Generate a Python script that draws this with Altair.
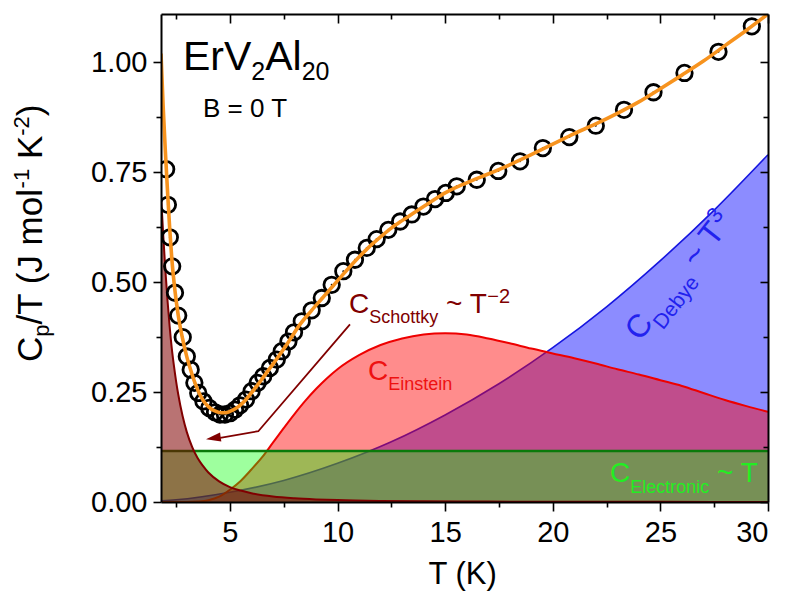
import math
import altair as alt
import pandas as pd

# ---------------- data ----------------
T_pts = [2.04, 2.12, 2.21, 2.32, 2.45, 2.60, 2.81, 3.00, 3.18, 3.35, 3.53, 3.77, 4.04, 4.31,
         4.54, 4.77, 5.01, 5.24, 5.47, 5.75, 6.01, 6.29, 6.55, 6.86, 7.18, 7.41, 7.72, 7.98,
         8.34, 8.80, 9.27, 9.73, 10.27, 10.81, 11.36, 11.82, 12.36, 12.91, 13.45, 13.99, 14.53,
         15.03, 15.54, 16.47, 17.47, 18.48, 19.54, 20.77, 22.00, 23.31, 24.68, 26.12, 27.70, 29.25]
Cp_pts = [0.757, 0.676, 0.602, 0.536, 0.476, 0.424, 0.375, 0.331, 0.301, 0.271, 0.248, 0.229, 0.214, 0.204,
          0.199, 0.199, 0.202, 0.210, 0.220, 0.233, 0.252, 0.271, 0.286, 0.305, 0.324, 0.343, 0.365, 0.386,
          0.411, 0.436, 0.464, 0.494, 0.525, 0.551, 0.578, 0.598, 0.619, 0.638, 0.654, 0.672, 0.689,
          0.703, 0.718, 0.733, 0.753, 0.775, 0.805, 0.830, 0.856, 0.892, 0.932, 0.976, 1.024, 1.082]

T_fit = [1.8, 1.9, 2.0, 2.1, 2.2, 2.3, 2.45, 2.6, 2.8, 3.0, 3.2, 3.4, 3.6, 3.8, 4.0, 4.3, 4.6, 4.8,
         5.0, 5.25, 5.5, 5.75, 6.0, 6.3, 6.6, 6.9, 7.2, 7.5, 7.8, 8.2, 8.8, 9.3, 9.8, 10.3, 10.8,
         11.4, 12.0, 12.5, 13.0, 13.5, 14.0, 14.5, 15.0, 16.0, 17.0, 18.0, 19.0, 20.0, 21.0, 22.0,
         23.0, 24.0, 25.0, 26.0, 27.0, 28.0, 29.0, 30.0]
Cp_fit = [1.02, 0.90, 0.80, 0.71, 0.625, 0.555, 0.48, 0.425, 0.372, 0.330, 0.297, 0.268, 0.245, 0.228,
          0.217, 0.207, 0.203, 0.203, 0.206, 0.212, 0.221, 0.233, 0.248, 0.267, 0.287, 0.307, 0.327,
          0.348, 0.370, 0.400, 0.436, 0.464, 0.492, 0.520, 0.547, 0.577, 0.603, 0.623, 0.640, 0.656,
          0.672, 0.688, 0.703, 0.726, 0.746, 0.767, 0.790, 0.814, 0.838, 0.860, 0.884, 0.910, 0.940,
          0.971, 1.003, 1.038, 1.073, 1.11]

T_deb = [1.8, 2.5, 5.0, 7.5, 10.0, 12.5, 15.0, 17.5, 20.0, 22.5, 25.0, 27.5, 30.0]
C_deb = [0.003, 0.005, 0.022, 0.049, 0.088, 0.137, 0.198, 0.269, 0.351, 0.444, 0.549, 0.664, 0.790]

T_ein = [1.8, 3.0, 3.5, 4.0, 4.5, 5.0, 5.5, 6.0, 6.5, 7.0, 7.5, 8.0, 8.5, 9.0, 9.5, 10.0, 11.0,
         12.0, 13.0, 14.0, 15.0, 16.0, 17.0, 18.0, 19.0, 20.0, 21.0, 22.0, 23.0, 24.0, 25.0, 26.0,
         27.0, 28.0, 29.0, 30.0]
C_ein = [0.0, 0.0, 0.001, 0.004, 0.012, 0.028, 0.048, 0.074, 0.102, 0.135, 0.168, 0.200, 0.230,
         0.257, 0.281, 0.302, 0.334, 0.357, 0.372, 0.381, 0.384, 0.381, 0.372, 0.361, 0.349, 0.338,
         0.327, 0.315, 0.302, 0.290, 0.277, 0.264, 0.248, 0.232, 0.218, 0.205]

T_sch = [1.8, 1.9, 2.0, 2.1, 2.2, 2.3, 2.4, 2.5, 2.6, 2.8, 3.0, 3.25, 3.5, 3.75, 4.0, 4.5, 5.0,
         5.5, 6.0, 7.0, 8.0, 9.0, 10.0, 12.0, 14.0, 17.0, 20.0, 25.0, 30.0]
C_sch = [0.70, 0.61, 0.53, 0.46, 0.40, 0.35, 0.31, 0.275, 0.245, 0.196, 0.159, 0.125, 0.100, 0.082,
         0.067, 0.047, 0.034, 0.026, 0.020, 0.0125, 0.0084, 0.0059, 0.0043, 0.0025, 0.0016, 0.0009,
         0.0005, 0.0003, 0.0002]

T_el = [1.8, 30.0]
C_el = [0.116, 0.116]

T_arrow = [10.58, 6.32, 4.55]
C_arrow = [0.404, 0.161, 0.146]
T_tip = [3.89]
C_tip = [0.143]

x_major = [5, 10, 15, 20, 25, 30]
x_minor = [2.5, 7.5, 12.5, 17.5, 22.5, 27.5]
y_major = [0.0, 0.25, 0.5, 0.75, 1.0]
y_minor = [0.125, 0.375, 0.625, 0.875]

# ---------------- layout / style ----------------
FONT = "Liberation Sans"
W_PLOT, H_PLOT = 607, 488
PX0, PY0 = 161, 14  # page position of plot origin
xs = alt.Scale(domain=[1.8, 30], nice=False, zero=False)
ys = alt.Scale(domain=[0, 1.11], nice=False, zero=False)

def axis(orient, values, size, labels=False, domain=False, offset=None, fmt=None):
    kw = dict(orient=orient, values=values, tickSize=size, labels=labels, domain=domain,
              grid=False, title=None, ticks=True, tickColor="black", tickWidth=1.6,
              zindex=1, domainColor="black", domainWidth=2)
    if labels:
        kw.update(labelFont=FONT, labelFontSize=29, labelColor="black", format=fmt,
                  labelPadding=6 if orient == "left" else 7)
    if offset is not None:
        kw["offset"] = offset
    return alt.Axis(**kw)

AX_X_BOT = axis("bottom", x_major, 9, labels=True, domain=True, fmt="d")
AX_X_BOT_MIN = axis("bottom", x_minor, 5)
AX_X_TOP = axis("bottom", x_major, 9, domain=True, offset=-H_PLOT)
AX_X_TOP_MIN = axis("bottom", x_minor, 5, offset=-H_PLOT)
AX_Y_LEFT = axis("left", y_major, 8, labels=True, domain=True, fmt=".2f")
AX_Y_LEFT_MIN = axis("left", y_minor, 5)
AX_Y_RIGHT = axis("left", y_major, 8, domain=True, offset=-W_PLOT)
AX_Y_RIGHT_MIN = axis("left", y_minor, 5, offset=-W_PLOT)

def df(t, c):
    return pd.DataFrame({"T": t, "C": c})

def enc(ch, xa=None, ya=None):
    return ch.encode(x=alt.X("T:Q", scale=xs, axis=xa), y=alt.Y("C:Q", scale=ys, axis=ya))

deb, ein, sch, el = df(T_deb, C_deb), df(T_ein, C_ein), df(T_sch, C_sch), df(T_el, C_el)

layers = [
    enc(alt.Chart(deb).mark_area(fill="#0000FF", fillOpacity=0.45, interpolate="monotone", clip=True),
        AX_X_BOT, AX_Y_LEFT),
    enc(alt.Chart(deb).mark_line(color="#1515E0", strokeWidth=1.6, interpolate="monotone", clip=True)),
    enc(alt.Chart(ein).mark_area(fill="#FF0000", fillOpacity=0.45, interpolate="monotone", clip=True),
        AX_X_BOT_MIN, AX_Y_LEFT_MIN),
    enc(alt.Chart(ein).mark_line(color="#EE0000", strokeWidth=2, interpolate="monotone", clip=True)),
    enc(alt.Chart(el).mark_area(fill="#00FF00", fillOpacity=0.38, clip=True), AX_X_TOP, AX_Y_RIGHT),
    enc(alt.Chart(el).mark_line(color="#0A7A0A", strokeWidth=2.5, clip=True)),
    enc(alt.Chart(sch).mark_area(fill="#800000", fillOpacity=0.55, interpolate="monotone", clip=True),
        AX_X_TOP_MIN, AX_Y_RIGHT_MIN),
    enc(alt.Chart(sch).mark_line(color="#800000", strokeWidth=2, interpolate="monotone", clip=True)),
    enc(alt.Chart(df(T_arrow, C_arrow)).mark_line(color="#800000", strokeWidth=1.8)),
    enc(alt.Chart(df(T_tip, C_tip)).mark_point(shape="M 0 0 L 2 -0.62 L 2 0.62 Z", size=220,
                                               filled=True, color="#800000", opacity=1, angle=352)),
    enc(alt.Chart(df(T_pts, Cp_pts)).mark_point(shape="circle", size=240, filled=False, stroke="black",
                                                strokeWidth=2.8, opacity=1, clip=True)),
    enc(alt.Chart(df(T_pts, Cp_pts)).mark_point(shape="circle", size=4, filled=True, color="black",
                                                opacity=1, clip=True)),
    enc(alt.Chart(df(T_fit, Cp_fit)).mark_line(color="#F7931E", strokeWidth=3.6, interpolate="monotone",
                                               clip=True)),
]

# ---------------- text with sub/superscripts ----------------
WID = {' ': 278, '~': 584, 'A': 667, 'B': 667, 'C': 722, 'D': 722, 'E': 667, 'J': 500, 'K': 667,
       'S': 667, 'T': 611, 'V': 667, 'a': 556, 'b': 556, 'c': 500, 'e': 556, 'h': 556, 'i': 222,
       'k': 500, 'l': 222, 'm': 833, 'n': 556, 'o': 556, 'p': 556, 'r': 333, 's': 500, 't': 278,
       'y': 500, '(': 333, ')': 333, '/': 278, '=': 584, '\u2212': 584, '-': 333, '.': 278}

def tw(s, fs):
    return sum(WID.get(ch, 556) for ch in s) * fs / 1000.0

rows = []

def run(x0, y0, parts, color, angle=0.0):
    a = math.radians(angle)
    ux, uy = math.cos(a), math.sin(a)
    dx, dy = -math.sin(a), math.cos(a)
    s = 0.0
    for text, fs, shift in parts:
        lead = len(text) - len(text.lstrip(" "))
        trail = len(text) - len(text.rstrip(" "))
        s += tw(" " * lead, fs)
        core = text.strip(" ")
        rows.append(dict(t=core, x=x0 + ux * s + dx * shift - PX0, y=y0 + uy * s + dy * shift - PY0,
                         fs=fs, c=color, ang=angle % 360))
        s += tw(core, fs) + tw(" " * trail, fs)

run(183, 70, [("ErV", 41, 0), ("2", 25, 10), ("Al", 41, 0), ("20", 25, 10)], "#000000")
run(203, 117, [("B = 0 T", 26, 0)], "#000000")
run(349, 313, [("C", 28, 0), ("Schottky", 18, 10), (" ~ T", 28, 0), ("\u22122", 20, -10)], "#800000")
run(368, 380, [("C", 28, 0), ("Einstein", 18, 10)], "#EE1111")
run(610, 482, [("C", 28, 0), ("Electronic", 18, 11), (" ~ T", 28, 0)], "#22EE22")
run(640, 342, [("C", 32, 0), ("Debye", 21, 11), (" ~ T", 32, 0), ("3", 22, -12)], "#2222EE", angle=-52)
run(42, 362, [("C", 35, 0), ("p", 22, 7), ("/T (J mol", 35, 0), ("-1", 22, -13), (" K", 35, 0),
              ("-2", 22, -13), (")", 35, 0)], "#000000", angle=-90)
run(463 - tw("T (K)", 31) / 2, 584, [("T (K)", 31, 0)], "#000000")

txt = alt.Chart(pd.DataFrame(rows)).mark_text(align="left", baseline="alphabetic", font=FONT).encode(
    x=alt.X("x:Q", scale=None, axis=None),
    y=alt.Y("y:Q", scale=None, axis=None),
    text="t:N",
    size=alt.Size("fs:Q", scale=None, legend=None),
    color=alt.Color("c:N", scale=None, legend=None),
    angle=alt.Angle("ang:Q", scale=None),
)
layers.append(txt)

chart = alt.layer(*layers).resolve_axis(x="independent", y="independent").properties(
    width=W_PLOT, height=H_PLOT,
    autosize=alt.AutoSizeParams(type="none"),
    padding={"left": PX0 - 8, "top": PY0 - 8, "right": 787 - 16 - (PX0 - 8) - W_PLOT,
             "bottom": 602 - 16 - (PY0 - 8) - H_PLOT},
    background="white",
).configure_view(stroke=None)

chart.save("out.html", embed_options={"renderer": "svg", "actions": False})
